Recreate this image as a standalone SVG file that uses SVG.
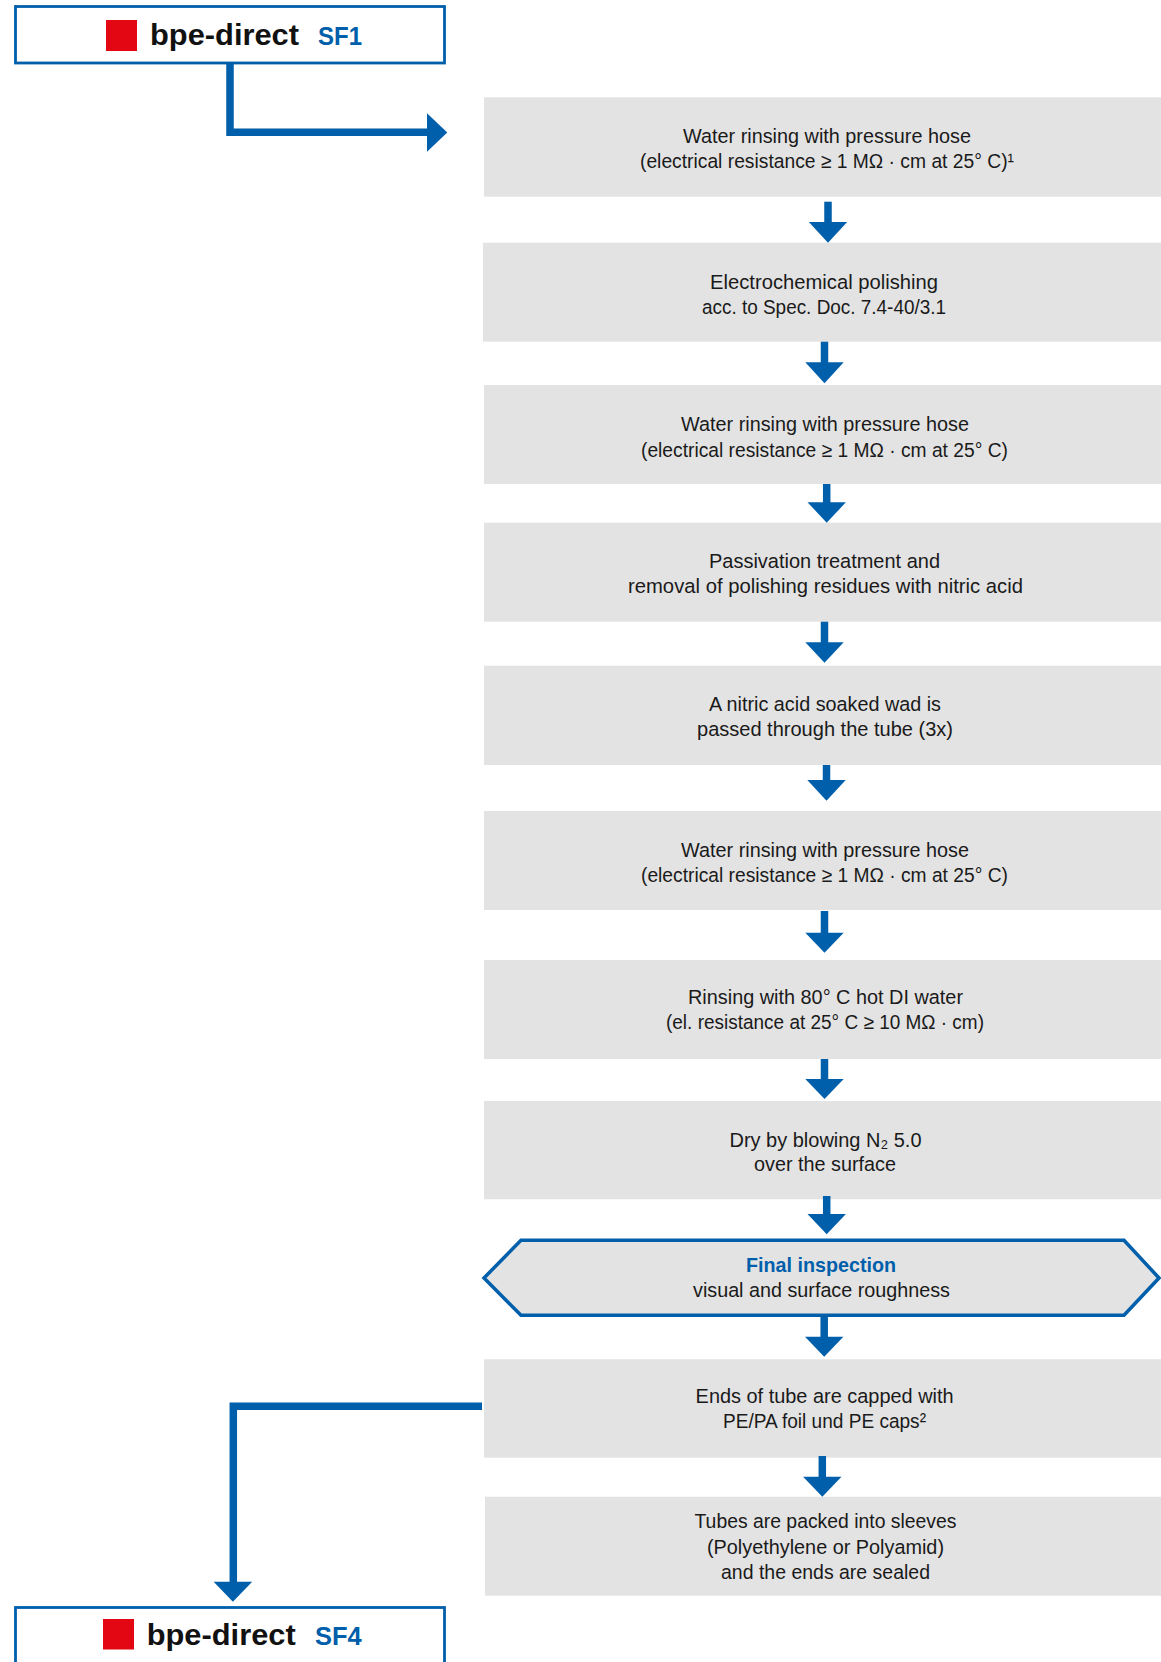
<svg xmlns="http://www.w3.org/2000/svg" width="1161" height="1662" viewBox="0 0 1161 1662">
<style>
.bg{fill:#ffffff}
.step{fill:#e3e3e3}
.hex{fill:#e3e3e3;stroke:#005fab;stroke-width:3.5;stroke-linejoin:miter}
.ref{fill:#ffffff;stroke:#005fab;stroke-width:2.8}
.red{fill:#e30613}
.t{font-family:"Liberation Sans",Arial,"DejaVu Sans",sans-serif;font-size:20.5px;fill:#1a1a1a}
.tb{font-family:"Liberation Sans",Arial,sans-serif;font-size:20.5px;font-weight:bold;fill:#005fab}
.title{font-family:"Liberation Sans",Arial,sans-serif;font-size:30px;font-weight:bold;fill:#111111}
.sf{font-family:"Liberation Sans",Arial,sans-serif;font-size:26px;font-weight:bold;fill:#005fab}
.shaft{fill:none;stroke:#005fab;stroke-width:7.5;stroke-linejoin:miter}
.head{fill:#005fab}
</style>
<rect class="bg" x="0" y="0" width="1161" height="1662"/>

<g id="sf1">
  <rect class="ref" x="15.5" y="6.5" width="429" height="56.5"/>
  <rect class="red" x="106" y="20" width="31" height="31"/>
  <text class="title" x="150" y="45" textLength="149" lengthAdjust="spacingAndGlyphs">bpe-direct</text>
  <text class="sf" x="318" y="45" textLength="44" lengthAdjust="spacingAndGlyphs">SF1</text>
</g>

<g id="step1">
  <rect class="step" x="484" y="97.3" width="677" height="99.4"/>
  <text class="t" x="683" y="142.7" textLength="288" lengthAdjust="spacingAndGlyphs">Water rinsing with pressure hose</text>
  <text class="t" x="640" y="167.7" textLength="374" lengthAdjust="spacingAndGlyphs">(electrical resistance ≥ 1 MΩ · cm at 25° C)¹</text>
</g>

<g id="step2">
  <rect class="step" x="483" y="242.7" width="678" height="99"/>
  <text class="t" x="710" y="289" textLength="228" lengthAdjust="spacingAndGlyphs">Electrochemical polishing</text>
  <text class="t" x="702" y="314" textLength="244" lengthAdjust="spacingAndGlyphs">acc. to Spec. Doc. 7.4-40/3.1</text>
</g>

<g id="step3">
  <rect class="step" x="484" y="385" width="677" height="99"/>
  <text class="t" x="681" y="430.7" textLength="288" lengthAdjust="spacingAndGlyphs">Water rinsing with pressure hose</text>
  <text class="t" x="641" y="456.7" textLength="367" lengthAdjust="spacingAndGlyphs">(electrical resistance ≥ 1 MΩ · cm at 25° C)</text>
</g>

<g id="step4">
  <rect class="step" x="484" y="522.7" width="677" height="99"/>
  <text class="t" x="709" y="567.7" textLength="231" lengthAdjust="spacingAndGlyphs">Passivation treatment and</text>
  <text class="t" x="628" y="593.3" textLength="395" lengthAdjust="spacingAndGlyphs">removal of polishing residues with nitric acid</text>
</g>

<g id="step5">
  <rect class="step" x="484" y="665.7" width="677" height="99.3"/>
  <text class="t" x="709" y="711" textLength="232" lengthAdjust="spacingAndGlyphs">A nitric acid soaked wad is</text>
  <text class="t" x="697" y="736" textLength="256" lengthAdjust="spacingAndGlyphs">passed through the tube (3x)</text>
</g>

<g id="step6">
  <rect class="step" x="484" y="811" width="677" height="99"/>
  <text class="t" x="681" y="856.7" textLength="288" lengthAdjust="spacingAndGlyphs">Water rinsing with pressure hose</text>
  <text class="t" x="641" y="881.7" textLength="367" lengthAdjust="spacingAndGlyphs">(electrical resistance ≥ 1 MΩ · cm at 25° C)</text>
</g>

<g id="step7">
  <rect class="step" x="484" y="960" width="677" height="99"/>
  <text class="t" x="688" y="1004" textLength="275" lengthAdjust="spacingAndGlyphs">Rinsing with 80° C hot DI water</text>
  <text class="t" x="666" y="1029.3" textLength="318" lengthAdjust="spacingAndGlyphs">(el. resistance at 25° C ≥ 10 MΩ · cm)</text>
</g>

<g id="step8">
  <rect class="step" x="484" y="1101" width="677" height="98.3"/>
  <text class="t" x="729.5" y="1146.7" textLength="192" lengthAdjust="spacingAndGlyphs">Dry by blowing N₂ 5.0</text>
  <text class="t" x="754" y="1170.7" textLength="142" lengthAdjust="spacingAndGlyphs">over the surface</text>
</g>

<g id="final-inspection">
  <polygon class="hex" points="484,1278 521,1240.3 1124,1240.3 1159,1278 1124,1315.3 521,1315.3"/>
  <text class="tb" x="746" y="1272.3" textLength="150" lengthAdjust="spacingAndGlyphs">Final inspection</text>
  <text class="t" x="693" y="1296.7" textLength="257" lengthAdjust="spacingAndGlyphs">visual and surface roughness</text>
</g>

<g id="step9">
  <rect class="step" x="484" y="1359.3" width="677" height="98.4"/>
  <text class="t" x="695.6" y="1403" textLength="258" lengthAdjust="spacingAndGlyphs">Ends of tube are capped with</text>
  <text class="t" x="723" y="1428" textLength="203" lengthAdjust="spacingAndGlyphs">PE/PA foil und PE caps²</text>
</g>

<g id="step10">
  <rect class="step" x="485" y="1496.7" width="676" height="99"/>
  <text class="t" x="694.5" y="1528" textLength="262" lengthAdjust="spacingAndGlyphs">Tubes are packed into sleeves</text>
  <text class="t" x="707" y="1554" textLength="237" lengthAdjust="spacingAndGlyphs">(Polyethylene or Polyamid)</text>
  <text class="t" x="721" y="1579" textLength="209" lengthAdjust="spacingAndGlyphs">and the ends are sealed</text>
</g>

<g id="sf4">
  <rect class="ref" x="15.5" y="1607.5" width="429" height="80"/>
  <rect class="red" x="103" y="1619" width="31" height="30.5"/>
  <text class="title" x="146.7" y="1645" textLength="149" lengthAdjust="spacingAndGlyphs">bpe-direct</text>
  <text class="sf" x="315" y="1645" textLength="46.7" lengthAdjust="spacingAndGlyphs">SF4</text>
</g>

<g id="connectors">
  <path class="shaft" d="M230,63 V132.2 H428"/>
  <polygon class="head" points="427,113.3 447.3,132.5 427,151.7"/>

  <path class="shaft" d="M828,201.7 V223"/>
  <polygon class="head" points="808.8,222 847.2,222 828,242.7"/>

  <path class="shaft" d="M824.5,341.7 V363"/>
  <polygon class="head" points="805.3,362.3 843.7,362.3 824.5,383.3"/>

  <path class="shaft" d="M826.7,484 V503"/>
  <polygon class="head" points="807.5,502.3 845.9,502.3 826.7,522.7"/>

  <path class="shaft" d="M824.5,621.7 V643"/>
  <polygon class="head" points="805.3,642.3 843.7,642.3 824.5,662.7"/>

  <path class="shaft" d="M826.5,765 V781"/>
  <polygon class="head" points="807.3,780 845.7,780 826.5,800.7"/>

  <path class="shaft" d="M824.5,911 V933.5"/>
  <polygon class="head" points="805.3,932.7 843.7,932.7 824.5,952.7"/>

  <path class="shaft" d="M824.5,1059 V1080"/>
  <polygon class="head" points="805.3,1079 843.7,1079 824.5,1099"/>

  <path class="shaft" d="M826.7,1196 V1215"/>
  <polygon class="head" points="807.5,1214 845.9,1214 826.7,1234.3"/>

  <path class="shaft" d="M824.2,1317 V1337.5"/>
  <polygon class="head" points="805,1336.7 843.4,1336.7 824.2,1356.7"/>

  <path class="shaft" d="M822.3,1456 V1477.5"/>
  <polygon class="head" points="803.1,1476.7 841.5,1476.7 822.3,1496.7"/>

  <path class="shaft" d="M482,1406.3 H233.3 V1582.5"/>
  <polygon class="head" points="213.6,1581.7 252.2,1581.7 232.9,1601.7"/>
</g>
</svg>
